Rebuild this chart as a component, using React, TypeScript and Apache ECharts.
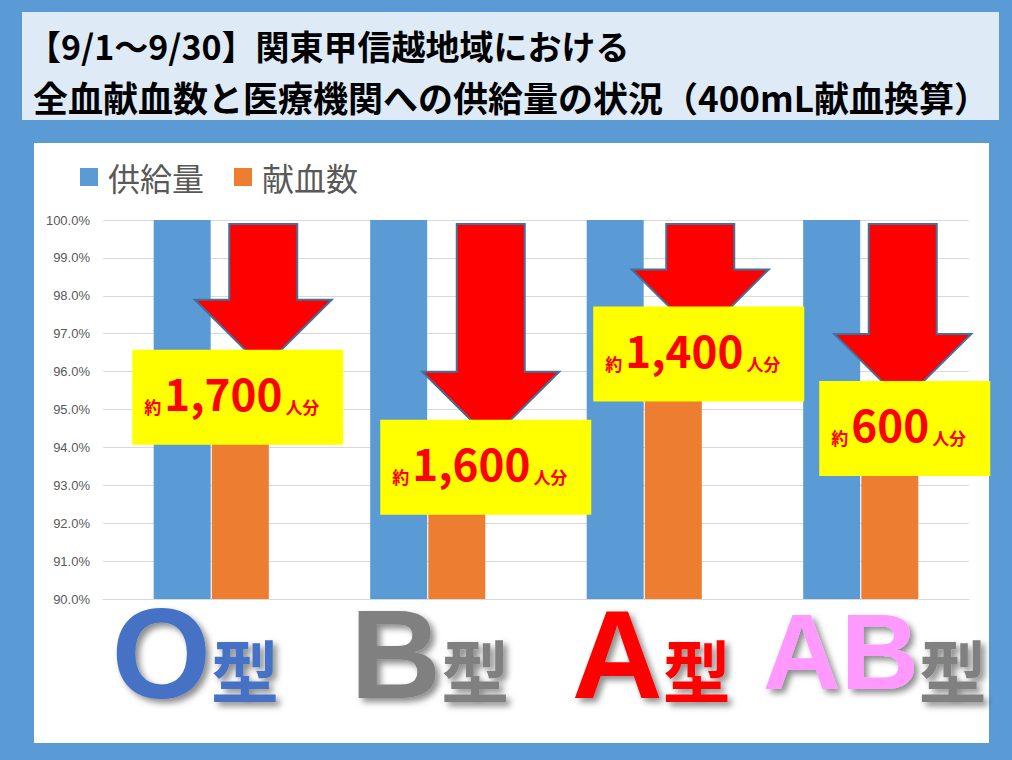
import React, { useEffect, useRef } from 'react';
import * as echarts from 'echarts';

// ---- data ----
const categories = ['O型', 'B型', 'A型', 'AB型'];
const seriesNames = ['供給量', '献血数'];
const supplyRate = [100, 100, 100, 100];
const donationRate = [96.1, 94.2, 96.9, 95.2];
const shortfallPeople = ['1,700', '1,600', '1,400', '600'];
const yMin = 90;
const yMax = 100;
const yStep = 1;
const titleLines = ['【9/1〜9/30】関東甲信越地域における', '全血献血数と医療機関への供給量の状況（400mL献血換算）'];

// ---- styles / layout ----
const CJK = '"Noto Sans CJK JP", "Noto Sans", sans-serif';
const LATIN = '"Liberation Sans", Arial, sans-serif';
const letterColors = ['#4472C4', '#808080', '#FF0000', '#FF99FF'];
const kanjiColors = ['#4472C4', '#808080', '#FF0000', '#808080'];
const letterSizes = [128, 126, 126, 108];
const labelShift = [-16, 2, 7, 14];
const arrowDx = [52, 63, 56, 42];
const boxDx = [26.5, 58, 54.5, 44];
const boxDy = [29.5, 27.5, 16.5, 26.5];
const boxW = [211, 211, 211, 171];

export default function App() {
  const ref = useRef<HTMLDivElement>(null);
  useEffect(() => {
    if (!ref.current) return;
    const chart = echarts.init(ref.current, undefined, { renderer: 'svg' });

    const shadow = {
      textShadowColor: 'rgba(0,0,0,0.45)',
      textShadowBlur: 6,
      textShadowOffsetX: 4,
      textShadowOffsetY: 4,
    };
    const rich: any = {};
    categories.forEach((c, i) => {
      const s = labelShift[i];
      rich['big' + i] = {
        fontSize: letterSizes[i], fontWeight: 'bold', fontFamily: LATIN, color: letterColors[i], lineHeight: 130,
        verticalAlign: 'bottom',
        padding: [0, 0, i === 3 ? 12 : 0, Math.max(0, 2 * s)], ...shadow,
      };
      rich['small' + i] = {
        fontSize: 68, fontWeight: 'bold', fontFamily: CJK, color: kanjiColors[i], verticalAlign: 'bottom', lineHeight: 80,
        padding: [0, Math.max(0, -2 * s), 14, 0], ...shadow,
      };
    });

    const option: any = {
      animation: false,
      graphic: [
        { type: 'rect', z: -100, shape: { x: 0, y: 0, width: 1012, height: 760 }, style: { fill: '#5B9BD5' } },
        { type: 'rect', z: -99, shape: { x: 22, y: 12, width: 977, height: 108 }, style: { fill: '#DEEBF7' } },
        { type: 'rect', z: -99, shape: { x: 34, y: 143, width: 955, height: 600 }, style: { fill: '#FFFFFF' } },
        { type: 'text', z: 10, x: 27, y: 45, style: { text: titleLines[0], font: `bold 34px ${CJK}`, fill: '#000', verticalAlign: 'middle' } },
        { type: 'text', z: 10, x: 33, y: 96, style: { text: titleLines[1], font: `bold 35px ${CJK}`, fill: '#000', verticalAlign: 'middle' } },
      ],
      legend: {
        data: seriesNames,
        left: 75,
        top: 156,
        icon: 'rect',
        itemWidth: 18,
        itemHeight: 18,
        itemGap: 30,
        textStyle: { fontSize: 32, color: '#595959', fontFamily: CJK, padding: [0, 0, 0, 5] },
      },
      grid: { left: 103, right: 43, top: 220, bottom: 161, outerBoundsMode: 'none' },
      xAxis: {
        type: 'category',
        data: categories,
        axisLine: { show: true, lineStyle: { color: '#D9D9D9', width: 1 } },
        axisTick: { show: false },
        axisLabel: {
          margin: -12,
          interval: 0,
          formatter: (v: string) => {
            const i = categories.indexOf(v);
            return `{big${i}|${v.replace('型', '')}}{small${i}|型}`;
          },
          rich,
        },
        splitLine: { show: false },
      },
      yAxis: {
        type: 'value',
        min: yMin,
        max: yMax,
        interval: yStep,
        axisLine: { show: false },
        axisTick: { show: false },
        splitLine: { lineStyle: { color: '#D9D9D9', width: 1 } },
        axisLabel: {
          formatter: (v: number) => v.toFixed(1) + '%',
          fontSize: 13,
          color: '#595959',
          fontFamily: LATIN,
          margin: 13,
        },
      },
      series: [
        { name: seriesNames[0], type: 'bar', data: supplyRate, barWidth: 57, barGap: '2%', itemStyle: { color: '#5B9BD5' }, z: 2 },
        { name: seriesNames[1], type: 'bar', data: donationRate, barWidth: 57, barGap: '2%', itemStyle: { color: '#ED7D31' }, z: 2 },
        {
          name: 'annotation',
          type: 'custom',
          coordinateSystem: 'cartesian2d',
          clip: false,
          z: 5,
          data: categories.map((_, i) => [i, donationRate[i], supplyRate[i]]),
          encode: { x: 0, y: 1 },
          renderItem: (params: any, api: any) => {
            const i = api.value(0);
            const topPt = api.coord([i, api.value(2)]);
            const tipPt = api.coord([i, api.value(1)]);
            const cx = topPt[0];
            const ax = cx + arrowDx[i];
            const top = topPt[1] + 4;
            const yTip = tipPt[1];
            const headH = 68;
            const shaftHalf = 34;
            const headHalf = 68.5;
            const headY = yTip - headH;
            const points = [
              [ax - shaftHalf, top],
              [ax + shaftHalf, top],
              [ax + shaftHalf, headY],
              [ax + headHalf, headY],
              [ax, yTip],
              [ax - headHalf, headY],
              [ax - shaftHalf, headY],
            ];
            const bw = boxW[i];
            const bh = 95;
            const bx = cx + boxDx[i] - bw / 2;
            const by = yTip + boxDy[i] - bh / 2;
            return {
              type: 'group',
              children: [
                { type: 'polygon', shape: { points }, style: { fill: '#FF0000', stroke: '#41719C', lineWidth: 2 } },
                { type: 'rect', shape: { x: bx, y: by, width: bw, height: bh }, style: { fill: '#FFFF00' } },
                {
                  type: 'text',
                  x: bx + 12,
                  y: by + bh / 2 - 5,
                  style: {
                    text: `{a|約}{n|${shortfallPeople[i]}}{u|人分}`,
                    align: 'left',
                    verticalAlign: 'middle',
                    rich: {
                      a: { fontSize: 17, fontWeight: 'bold', fontFamily: CJK, fill: '#FF0000', color: '#FF0000', verticalAlign: 'bottom', lineHeight: 46, padding: [0, 3, 0, 0] },
                      n: { fontSize: 44, fontWeight: 'bold', fontFamily: CJK, fill: '#FF0000', color: '#FF0000', lineHeight: 46 },
                      u: { fontSize: 17, fontWeight: 'bold', fontFamily: CJK, fill: '#FF0000', color: '#FF0000', verticalAlign: 'bottom', lineHeight: 46, padding: [0, 0, 0, 3] },
                    },
                  },
                },
              ],
            };
          },
        },
      ],
    };
    chart.setOption(option);
    return () => chart.dispose();
  }, []);
  return <div ref={ref} style={{ position: 'absolute', left: 0, top: 0, width: 1012, height: 760 }} />;
}
